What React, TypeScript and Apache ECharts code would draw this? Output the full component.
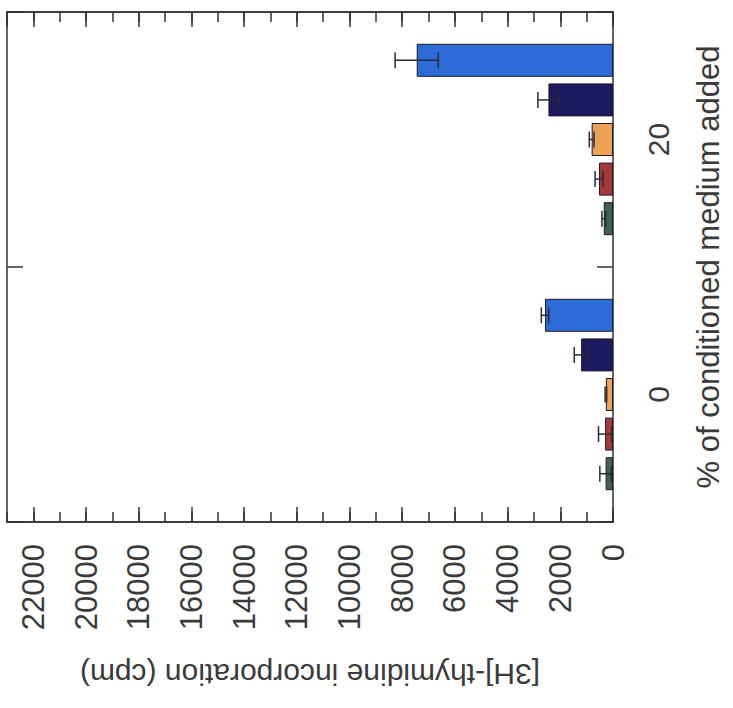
import React, { useEffect, useRef } from 'react';
import * as echarts from 'echarts';

// Categories (% of conditioned medium added)
const categories = ['0', '20'];

// Series values (cpm) per category, and their errors
const blueValues = [2580, 7450];
const blueErrors = [140, 820];
const navyValues = [1210, 2450];
const navyErrors = [260, 400];
const orangeValues = [270, 810];
const orangeErrors = [30, 90];
const redValues = [300, 530];
const redErrors = [250, 150];
const greenValues = [280, 350];
const greenErrors = [220, 70];

const seriesNames = ['A', 'B', 'C', 'D', 'E'];
const seriesValues = [blueValues, navyValues, orangeValues, redValues, greenValues];
const seriesErrors = [blueErrors, navyErrors, orangeErrors, redErrors, greenErrors];
const colors = ['#2d6cd6', '#1c1a5e', '#eca355', '#a8393a', '#3f6251'];

const valueMax = 23000;
const majorStep = 2000;
const minorStep = 1000;

const BW = 33;
const GAP = 0.2;
const FONT = 'Liberation Sans, Arial, Helvetica, sans-serif';
const TEXT = '#3a3a3a';
const LINE = '#333';

export default function App() {
  const ref = useRef<HTMLDivElement>(null);
  useEffect(() => {
    if (!ref.current) return;
    const chart = echarts.init(ref.current, null, { renderer: 'svg' });
    const n = seriesValues.length;
    const total = n * BW + (n - 1) * BW * GAP;
    const offsets = seriesValues.map((_, i) => -total / 2 + i * BW * (1 + GAP) + BW / 2);

    const commonValueAxis = {
      type: 'value',
      min: 0,
      max: valueMax,
      inverse: true,
      splitLine: { show: false },
      axisLine: { show: true, onZero: false, lineStyle: { color: LINE, width: 1.5 } },
    };

    const barSeries = seriesValues.map((vals, i) => ({
      type: 'bar',
      name: seriesNames[i],
      xAxisIndex: 0,
      yAxisIndex: 0,
      barWidth: BW,
      barGap: GAP * 100 + '%',
      data: vals,
      itemStyle: { color: colors[i], borderColor: '#1a1a2a', borderWidth: 1 },
    }));

    const errSeries = seriesValues.map((vals, i) => ({
      type: 'custom',
      name: seriesNames[i] + '-err',
      xAxisIndex: 0,
      yAxisIndex: 0,
      z: 10,
      encode: { x: 0, y: 1 },
      data: vals.map((v, k) => [v, k, seriesErrors[i][k]]),
      renderItem: (params: any, api: any) => {
        const v = api.value(0);
        const c = api.value(1);
        const e = api.value(2);
        const lo = api.coord([v - e, c]);
        const hi = api.coord([v + e, c]);
        const y = lo[1] + offsets[i];
        const h = 8;
        const style = { stroke: '#2a2a3a', lineWidth: 1.5 };
        return {
          type: 'group',
          children: [
            { type: 'line', shape: { x1: lo[0], y1: y, x2: hi[0], y2: y }, style },
            { type: 'line', shape: { x1: lo[0], y1: y - h, x2: lo[0], y2: y + h }, style },
            { type: 'line', shape: { x1: hi[0], y1: y - h, x2: hi[0], y2: y + h }, style },
          ],
        };
      },
    }));

    chart.setOption({
      animation: false,
      backgroundColor: '#ffffff',
      grid: { left: 7, right: 120, top: 12, bottom: 186, containLabel: false },
      xAxis: [
        {
          ...commonValueAxis,
          position: 'bottom',
          interval: majorStep,
          axisTick: { show: true, inside: true, length: 15, lineStyle: { color: LINE, width: 1.5 } },
          axisLabel: {
            show: true,
            rotate: 90,
            margin: 22,
            fontSize: 31,
            fontFamily: FONT,
            color: TEXT,
            showMaxLabel: false,
            formatter: (v: number) => (v % majorStep === 0 ? String(v) : ''),
          },
          name: '[3H]-thymidine incorporation (cpm)',
          nameLocation: 'middle',
          nameRotate: 180,
          nameGap: 137,
          nameTextStyle: { fontSize: 30, fontFamily: FONT, color: TEXT },
        },
        {
          ...commonValueAxis,
          position: 'bottom',
          interval: minorStep,
          axisTick: { show: true, inside: true, length: 10, lineStyle: { color: LINE, width: 1.5 } },
          axisLabel: { show: false },
        },
        {
          ...commonValueAxis,
          position: 'top',
          interval: majorStep,
          axisTick: { show: true, inside: true, length: 15, lineStyle: { color: LINE, width: 1.5 } },
          axisLabel: { show: false },
        },
        {
          ...commonValueAxis,
          position: 'top',
          interval: minorStep,
          axisTick: { show: true, inside: true, length: 10, lineStyle: { color: LINE, width: 1.5 } },
          axisLabel: { show: false },
        },
      ],
      yAxis: [
        {
          type: 'category',
          data: categories,
          position: 'right',
          axisLine: { show: true, onZero: false, lineStyle: { color: LINE, width: 1.5 } },
          axisTick: { show: true, inside: true, length: 16, lineStyle: { color: LINE, width: 1.5 } },
          axisLabel: {
            show: true,
            rotate: 90,
            margin: 30,
            fontSize: 30,
            fontFamily: FONT,
            color: TEXT,
          },
          name: '% of conditioned medium added',
          nameLocation: 'middle',
          nameRotate: 90,
          nameGap: 80,
          nameTextStyle: { fontSize: 31, fontFamily: FONT, color: TEXT },
        },
        {
          type: 'category',
          data: categories,
          position: 'left',
          axisLine: { show: true, onZero: false, lineStyle: { color: LINE, width: 1.5 } },
          axisTick: { show: true, inside: true, length: 16, lineStyle: { color: LINE, width: 1.5 } },
          axisLabel: { show: false },
        },
      ],
      series: [...barSeries, ...errSeries],
    });
    return () => chart.dispose();
  }, []);
  return (
    <div
      ref={ref}
      style={{ position: 'fixed', left: 0, top: 0, width: 733, height: 708, background: '#fff' }}
    />
  );
}
